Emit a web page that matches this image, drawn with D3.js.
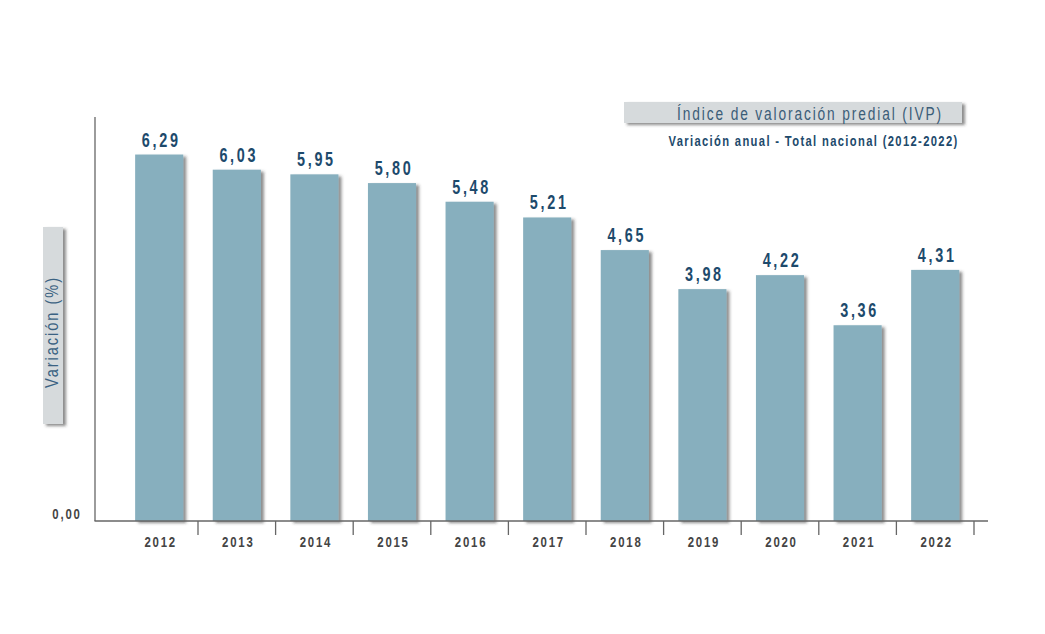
<!DOCTYPE html>
<html><head><meta charset="utf-8">
<script src="https://cdn.jsdelivr.net/npm/d3@7"></script>
<style>
html,body{margin:0;padding:0;background:#fff;}
svg{display:block;}
</style></head>
<body>
<script>
const years = ["2012","2013","2014","2015","2016","2017","2018","2019","2020","2021","2022"];
const values = [6.29,6.03,5.95,5.80,5.48,5.21,4.65,3.98,4.22,3.36,4.31];
const title = "Índice de valoración predial (IVP)";
const subtitle = "Variación anual - Total nacional (2012-2022)";
const yTitle = "Variación (%)";
const yTickLabels = ["0,00"];

const W = 1045, H = 634;
const FONT = "'Liberation Sans',Arial,sans-serif";
const svg = d3.select("body").append("svg").attr("width", W).attr("height", H);

const defs = svg.append("defs");
const f = defs.append("filter").attr("id","sh").attr("x","-20%").attr("y","-20%").attr("width","150%").attr("height","150%");
f.append("feDropShadow").attr("dx",3).attr("dy",2).attr("stdDeviation",1.8).attr("flood-color","#333").attr("flood-opacity",0.55);

const x = d3.scaleBand().domain(years).range([120.4, 974]).paddingInner(0.38).paddingOuter(0.19);
const y = d3.scaleLinear().domain([0, 6.9]).range([521, 119]);
const fmt = v => v.toFixed(2).replace(".", ",");

// helper: condensed text via horizontal scale
function ctext(g, tx, ty, str, opt) {
  const t = g.append("text")
    .attr("transform", `translate(${tx},${ty}) scale(${opt.sx||1},1)`)
    .attr("text-anchor", opt.anchor || "middle")
    .attr("font-family", FONT)
    .attr("font-weight", opt.weight || "normal")
    .attr("font-size", opt.size)
    .attr("letter-spacing", opt.ls || 0)
    .attr("fill", opt.fill)
    .text(str);
  if (opt.fit) {
    const w = t.node().getComputedTextLength() - (opt.ls || 0);
    const sx = opt.fit / w;
    t.attr("transform", opt.rot
      ? `translate(${tx},${ty}) rotate(-90) scale(${sx},1)`
      : `translate(${tx},${ty}) scale(${sx},1)`);
  }
  return t;
}

// bars
svg.append("g").selectAll("rect").data(values).join("rect")
  .attr("x", (d,i) => x(years[i]))
  .attr("y", d => y(d))
  .attr("width", x.bandwidth())
  .attr("height", d => y(0) - y(d))
  .attr("fill", "#87afbe")
  .attr("filter", "url(#sh)");

// value labels
const gv = svg.append("g");
values.forEach((d,i) => {
  ctext(gv, x(years[i]) + x.bandwidth()/2 + 2, y(d) - 8, fmt(d),
    {size: 19.5, weight: "bold", sx: 0.74, ls: 3.6, fill: "#1d4a6c"});
});

// y axis line
svg.append("line").attr("x1",95).attr("x2",95).attr("y1",117).attr("y2",y(0))
  .attr("stroke","#666").attr("stroke-width",1.3);
// x axis line
svg.append("line").attr("x1",94.5).attr("x2",988).attr("y1",y(0)).attr("y2",y(0))
  .attr("stroke","#666").attr("stroke-width",1.3);

// x ticks at right edges of bands
const step = x.step();
svg.append("g").selectAll("line").data(years).join("line")
  .attr("x1", d => x(d) - x.paddingOuter()*step + step)
  .attr("x2", d => x(d) - x.paddingOuter()*step + step)
  .attr("y1", y(0)).attr("y2", y(0) + 14)
  .attr("stroke","#666").attr("stroke-width",1.3);

// year labels
const gy = svg.append("g");
years.forEach(d => {
  ctext(gy, x(d) + x.bandwidth()/2 + 1.5, 547.3, d,
    {size: 14.6, weight: "bold", sx: 0.78, ls: 2.3, fill: "#444"});
});

// y tick label
ctext(svg, 67, y(0) - 2, yTickLabels[0],
  {size: 14.6, weight: "bold", sx: 0.78, ls: 2.3, fill: "#444"});

// title box
svg.append("rect").attr("x",624).attr("y",102).attr("width",338).attr("height",21)
  .attr("fill","#d6dadc").attr("filter","url(#sh)");
ctext(svg, 810, 119.5, title,
  {size: 18.5, weight: "normal", ls: 2.5, fill: "#3b5d78", fit: 264});
ctext(svg, 813.5, 146, subtitle,
  {size: 15, weight: "bold", ls: 1.8, fill: "#1d4a6c", fit: 289});

// y title box
svg.append("rect").attr("x",43).attr("y",227).attr("width",20).attr("height",197)
  .attr("fill","#d6dadc").attr("filter","url(#sh)");
ctext(svg, 58, 332, yTitle,
  {size: 18.5, weight: "normal", ls: 2.5, fill: "#3b6282", fit: 110, rot: true});
</script>
</body></html>
